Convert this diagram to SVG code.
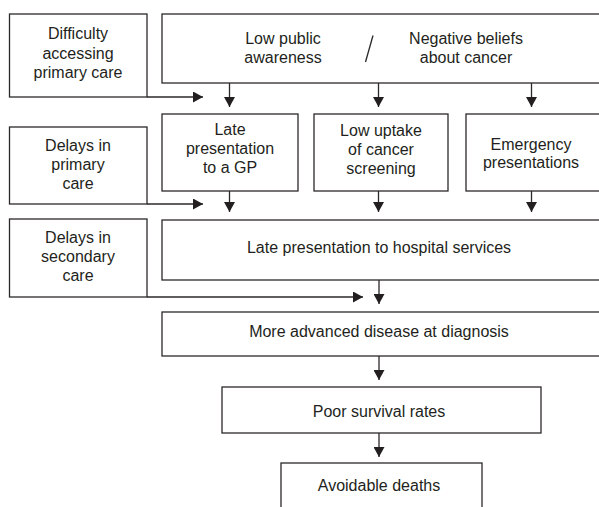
<svg xmlns="http://www.w3.org/2000/svg" width="599" height="507" viewBox="0 0 599 507">
<defs>
<style>
.box{fill:#fff;stroke:#2b2829;stroke-width:1.3}
.t{font-family:"Liberation Sans",Arial,sans-serif;font-size:16px;fill:#231f20;text-anchor:middle}
.c{fill:none;stroke:#2b2829;stroke-width:1.3}
</style>
<marker id="ah" markerUnits="userSpaceOnUse" markerWidth="11" markerHeight="11" refX="10" refY="5.5" orient="auto" viewBox="0 0 11 11">
<path d="M0,0 L10,5.5 L0,11 Z" fill="#231f20"/>
</marker>
</defs>
<rect width="599" height="507" fill="#fff"/>
<g id="connectors">
<path class="c" d="M147,97 H203" marker-end="url(#ah)"/>
<path class="c" d="M229.5,83 V107" marker-end="url(#ah)"/>
<path class="c" d="M378.5,83 V107" marker-end="url(#ah)"/>
<path class="c" d="M531.5,83 V107" marker-end="url(#ah)"/>
<path class="c" d="M147,204 H203" marker-end="url(#ah)"/>
<path class="c" d="M229.5,191 V212" marker-end="url(#ah)"/>
<path class="c" d="M378.5,191 V212" marker-end="url(#ah)"/>
<path class="c" d="M531.5,191 V212" marker-end="url(#ah)"/>
<path class="c" d="M147,297 H363" marker-end="url(#ah)"/>
<path class="c" d="M379,280 V304" marker-end="url(#ah)"/>
<path class="c" d="M379,356 V380" marker-end="url(#ah)"/>
<path class="c" d="M379,433 V457" marker-end="url(#ah)"/>
</g>
<g id="difficulty">
<rect class="box" x="9.5" y="14" width="137.5" height="83"/>
<text class="t" x="78" y="39">Difficulty</text>
<text class="t" x="78" y="58.5">accessing</text>
<text class="t" x="78" y="78">primary care</text>
</g>
<g id="beliefs">
<rect class="box" x="162" y="14" width="438" height="69"/>
<text class="t" x="283" y="44">Low public</text>
<text class="t" x="283" y="63">awareness</text>
<line class="c" x1="373" y1="35.5" x2="365.5" y2="62"/>
<text class="t" x="466" y="44">Negative beliefs</text>
<text class="t" x="466" y="63">about cancer</text>
</g>
<g id="late-gp">
<rect class="box" x="162" y="114" width="136" height="77"/>
<text class="t" x="230" y="135">Late</text>
<text class="t" x="230" y="154">presentation</text>
<text class="t" x="230" y="173">to a GP</text>
</g>
<g id="screening">
<rect class="box" x="314" y="114" width="134" height="77"/>
<text class="t" x="381" y="135.5">Low uptake</text>
<text class="t" x="381" y="154.5">of cancer</text>
<text class="t" x="381" y="173.5">screening</text>
</g>
<g id="emergency">
<rect class="box" x="466" y="114" width="134" height="77"/>
<text class="t" x="531" y="149.5">Emergency</text>
<text class="t" x="531" y="168">presentations</text>
</g>
<g id="delays-primary">
<rect class="box" x="9.5" y="127" width="137.5" height="77"/>
<text class="t" x="78" y="151">Delays in</text>
<text class="t" x="78" y="170">primary</text>
<text class="t" x="78" y="189">care</text>
</g>
<g id="delays-secondary">
<rect class="box" x="9.5" y="219" width="137.5" height="78"/>
<text class="t" x="78" y="242.5">Delays in</text>
<text class="t" x="78" y="261.5">secondary</text>
<text class="t" x="78" y="280.5">care</text>
</g>
<g id="hospital">
<rect class="box" x="162" y="220" width="438" height="60"/>
<text class="t" x="379" y="253">Late presentation to hospital services</text>
</g>
<g id="advanced">
<rect class="box" x="162" y="312" width="438" height="44"/>
<text class="t" x="379" y="336.5">More advanced disease at diagnosis</text>
</g>
<g id="survival">
<rect class="box" x="222" y="387" width="319" height="46"/>
<text class="t" x="379" y="416.5">Poor survival rates</text>
</g>
<g id="deaths">
<rect class="box" x="281" y="463" width="201" height="50"/>
<text class="t" x="379" y="491">Avoidable deaths</text>
</g>
</svg>
